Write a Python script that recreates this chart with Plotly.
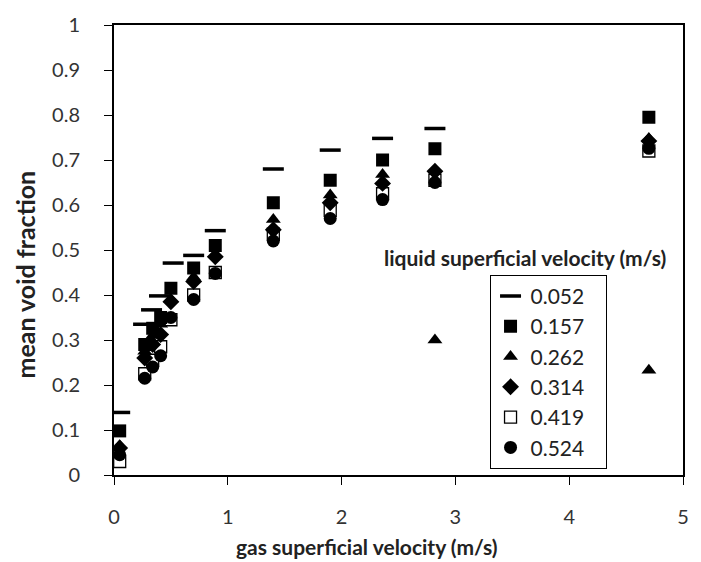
import plotly.graph_objects as go

# gas superficial velocity (m/s) columns
ug = [0.05, 0.27, 0.34, 0.41, 0.50, 0.70, 0.89, 1.40, 1.90, 2.36, 2.82, 4.70]

series_names = ["0.052", "0.157", "0.262", "0.314", "0.419", "0.524"]

x_052 = [0.05, 0.26, 0.33, 0.40, 0.52, 0.70, 0.89, 1.40, 1.90, 2.36, 2.82]
y_052 = [0.139, 0.335, 0.367, 0.398, 0.471, 0.488, 0.543, 0.680, 0.722, 0.748, 0.770]

x_157 = ug
y_157 = [0.098, 0.290, 0.326, 0.350, 0.415, 0.460, 0.510, 0.605, 0.655, 0.700, 0.725, 0.795]

x_262 = [0.05, 0.27, 0.34, 0.41, 0.50, 0.70, 0.89, 1.40, 1.90, 2.36, 2.82, 4.70, 4.70]
y_262 = [0.065, 0.275, 0.310, 0.335, 0.390, 0.440, 0.490, 0.568, 0.622, 0.668, 0.300, 0.233, 0.748]

x_314 = ug
y_314 = [0.060, 0.260, 0.290, 0.312, 0.385, 0.430, 0.485, 0.545, 0.605, 0.648, 0.675, 0.742]

x_419 = ug
y_419 = [0.030, 0.225, 0.255, 0.285, 0.345, 0.400, 0.450, 0.535, 0.588, 0.625, 0.655, 0.720]

x_524 = ug
y_524 = [0.045, 0.215, 0.240, 0.265, 0.350, 0.390, 0.448, 0.520, 0.570, 0.612, 0.650, 0.726]

FONT = "Lato"
PAD = "\u00a0\u00a0\u00a0"

fig = go.Figure()

fig.add_trace(go.Scatter(x=x_052, y=y_052, mode="markers", name=series_names[0] + PAD,
                         marker=dict(symbol="line-ew", size=15, color="black",
                                     line=dict(color="black", width=3.5))))
fig.add_trace(go.Scatter(x=x_157, y=y_157, mode="markers", name=series_names[1] + PAD,
                         marker=dict(symbol="square", size=13, color="black")))
fig.add_trace(go.Scatter(x=x_262, y=y_262, mode="markers", name=series_names[2] + PAD,
                         marker=dict(symbol="triangle-up", size=13, color="black")))
fig.add_trace(go.Scatter(x=x_314, y=y_314, mode="markers", name=series_names[3] + PAD,
                         marker=dict(symbol="diamond", size=13, color="black")))
fig.add_trace(go.Scatter(x=x_419, y=y_419, mode="markers", name=series_names[4] + PAD,
                         marker=dict(symbol="square-open", size=12, color="black",
                                     line=dict(color="black", width=1.3))))
fig.add_trace(go.Scatter(x=x_524, y=y_524, mode="markers", name=series_names[5] + PAD,
                         marker=dict(symbol="circle", size=13, color="black")))

fig.update_layout(
    width=701, height=562,
    margin=dict(l=114, r=17, t=15, b=87),
    paper_bgcolor="white", plot_bgcolor="white",
    font=dict(family=FONT, color="#222", size=20),
    xaxis=dict(range=[0, 5], dtick=1, showgrid=False, zeroline=False,
               showline=True, linecolor="black", linewidth=2, mirror=True,
               ticks="outside", ticklen=8, tickcolor="black", tickwidth=1,
               ticklabelstandoff=15,
               tickfont=dict(size=20, family=FONT, color="#333")),
    yaxis=dict(range=[0, 1], dtick=0.1, showgrid=False, zeroline=False,
               showline=True, linecolor="black", linewidth=2, mirror=True,
               ticks="outside", ticklen=8, tickcolor="black", tickwidth=1,
               ticklabelstandoff=20,
               tickfont=dict(size=20, family=FONT, color="#333")),
    legend=dict(x=0.66, y=0.445, xanchor="left", yanchor="top",
                bordercolor="black", borderwidth=1, bgcolor="white",
                font=dict(size=21, family=FONT, color="#222"),
                itemwidth=30, tracegroupgap=0),
    showlegend=True,
)

# axis titles
fig.add_annotation(x=0.444, y=-0.159, xref="paper", yref="paper",
                   xanchor="center", yanchor="middle",
                   text="<b>gas superficial velocity (m/s)</b>", showarrow=False,
                   font=dict(size=21, family=FONT, color="#222"))
fig.add_annotation(x=-0.156, y=0.446, xref="paper", yref="paper",
                   xanchor="center", yanchor="middle", textangle=-90,
                   text="<b>mean void fraction</b>", showarrow=False,
                   font=dict(size=25, family=FONT, color="#222"))

fig.add_annotation(x=0.723, y=0.484, xref="paper", yref="paper",
                   xanchor="center", yanchor="middle",
                   text="<b>liquid superficial velocity (m/s)</b>", showarrow=False,
                   font=dict(size=21, family=FONT, color="#222"))

fig.write_html("out.html")
